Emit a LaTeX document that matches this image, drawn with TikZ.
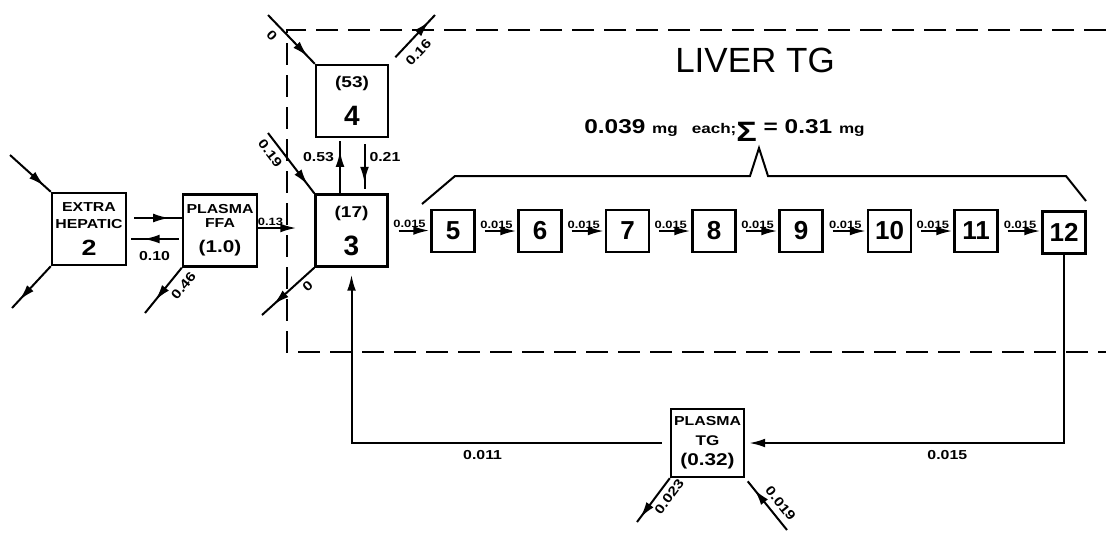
\documentclass[tikz,border=0pt]{standalone}
\usepackage{fontspec}
\setmainfont{Liberation Sans}
\newfontfamily\wideface{Liberation Sans}[FakeStretch=1.22]
\usetikzlibrary{arrows.meta,decorations.markings}

\begin{document}
\begin{tikzpicture}[x=0.5pt,y=0.5pt,
  cpt/.style={draw,line width=1.2pt,inner sep=0pt,align=center,minimum width=36pt,minimum height=36pt},
  seg/.style={draw,line width=1.2pt,inner sep=0pt,minimum width=21.5pt,minimum height=21pt,font=\bfseries\fontsize{13}{13}\selectfont},
  flow/.style={line width=1pt},
  endtip/.style={-{Latex[length=8pt,width=4.4pt]}},
  midtip/.style={postaction={decorate},decoration={markings,mark=at position #1 with {\arrow{Latex[length=8pt,width=4.4pt]}}}},
  rate/.style={font=\wideface\bfseries\fontsize{6.5}{6.5}\selectfont,inner sep=1pt},
  chainlbl/.style={font=\wideface\bfseries\fontsize{5.3}{5.3}\selectfont,inner sep=0.5pt},
  liverframe/.style={line width=1pt,dash pattern=on 11pt off 5pt}]
\useasboundingbox (0,0) rectangle (1106,-532);

% liver compartment
\draw[liverframe] (1106,-30) -- (287,-30) -- (287,-352) -- (1106,-352);
\node[font=\fontsize{17.5}{17.5}\selectfont] (title) at (755,-60.5) {LIVER TG};

% pools
\node[cpt,minimum width=37pt,font=\wideface\bfseries\fontsize{6.5}{8.5}\selectfont] (c2) at (89,-229)
  {EXTRA\\HEPATIC\\[5pt]{\fontsize{11}{11}\selectfont 2}};
\node[cpt,minimum width=37pt,font=\wideface\bfseries\fontsize{6.5}{7}\selectfont] (ffa) at (220,-230.5)
  {PLASMA\\FFA\\[5.5pt]{\fontsize{8.5}{8.5}\selectfont (1.0)}};
\node[cpt,font=\wideface\bfseries\fontsize{7.8}{19}\selectfont] (c4) at (352,-101)
  {(53)\\{\normalfont\bfseries\fontsize{14}{14}\selectfont 4}};
\node[cpt,font=\wideface\bfseries\fontsize{7.8}{19}\selectfont] (c3) at (351.5,-230.5)
  {(17)\\{\normalfont\bfseries\fontsize{14}{14}\selectfont 3}};
\node[seg] (c5) at (453,-231) {5};
\node[seg] (c6) at (540,-231) {6};
\node[seg] (c7) at (627.5,-231) {7};
\node[seg] (c8) at (714,-231) {8};
\node[seg] (c9) at (801,-231) {9};
\node[seg] (c10) at (889.5,-231) {10};
\node[seg] (c11) at (976,-231) {11};
\node[seg] (c12) at (1064,-232.5) {12};
\node[cpt,minimum width=36.5pt,minimum height=34pt,font=\wideface\bfseries\fontsize{6.5}{10}\selectfont] (ptg) at (707.5,-443)
  {PLASMA\\{\fontsize{7}{7}\selectfont TG}\\{\fontsize{8.5}{8.5}\selectfont (0.32)}};

% free ends
\coordinate (in2) at (10,-155);
\coordinate (out2) at (12,-308);
\coordinate (outffa) at (145,-313);
\coordinate (in4) at (268,-15);
\coordinate (out4) at (435,-15);
\coordinate (in3) at (268,-133);
\coordinate (out3) at (262,-315);
\coordinate (outptg) at (637,-522);
\coordinate (inptg) at (787,-530);

% extrahepatic and plasma FFA
\draw[flow,midtip=0.84] (in2) -- (c2.north west);
\draw[flow,midtip=0.81] (c2.south west) -- (out2);
\draw[flow,midtip=0.77,shorten <=3.5pt] ([yshift=5.5pt]c2.east) -- ([yshift=5.5pt]c2.east -| ffa.west);
\draw[flow,midtip=0.7,shorten <=1.5pt,shorten >=2pt] ([yshift=-4.25pt]ffa.west) -- ([yshift=-4.25pt]ffa.west -| c2.east)
  node[midway,below=4.5pt,rate] {0.10};
\draw[flow,midtip=0.72] (ffa.south west) -- (outffa) node[pos=0.22,sloped,below=2.5pt,rate] {0.46};
\draw[flow,endtip,shorten >=9pt] ([yshift=1.25pt]ffa.east) -- ([yshift=1.25pt]ffa.east -| c3.west)
  node[pos=0.22,above=0pt,chainlbl] {0.13};

% pools 3 and 4
\draw[flow,midtip=0.85] (in4) -- (c4.north west) node[pos=0.26,sloped,below=2pt,rate] {0};
\draw[flow,midtip=0.87,shorten <=4.5pt] (c4.north east) -- (out4) node[pos=0.42,sloped,below=3pt,rate] {0.16};
\draw[flow,midtip=0.86] (in3) -- (c3.north west) node[pos=0.23,sloped,below=1.5pt,rate] {0.19};
\draw[flow,midtip=0.78] (c3.south west) -- (out3) node[pos=0.25,sloped,below=1pt,rate] {0};
\draw[flow,midtip=0.77,shorten >=1.5pt] ([xshift=-5.75pt]c3.north) -- ([xshift=-5.75pt]c3.north |- c4.south)
  node[pos=0.65,left=1.5pt,rate] {0.53};
\draw[flow,midtip=0.81,shorten <=3pt,shorten >=2pt] ([xshift=6.25pt]c4.south) -- ([xshift=6.25pt]c4.south |- c3.north)
  node[pos=0.35,right=1pt,rate] {0.21};

% chain of liver pools
\draw[flow,endtip,shorten <=5pt,shorten >=0.5pt] (c3.east) -- (c3.east -| c5.west) node[midway,above=0.3pt,chainlbl] {0.015};
\draw[flow,endtip,shorten <=4.5pt,shorten >=0.5pt] (c5.east) -- (c6.west) node[midway,above=0.3pt,chainlbl] {0.015};
\draw[flow,endtip,shorten <=4.5pt,shorten >=0.5pt] (c6.east) -- (c7.west) node[midway,above=0.3pt,chainlbl] {0.015};
\draw[flow,endtip,shorten <=4.5pt,shorten >=0.5pt] (c7.east) -- (c8.west) node[midway,above=0.3pt,chainlbl] {0.015};
\draw[flow,endtip,shorten <=4.5pt,shorten >=0.5pt] (c8.east) -- (c9.west) node[midway,above=0.3pt,chainlbl] {0.015};
\draw[flow,endtip,shorten <=4.5pt,shorten >=0.5pt] (c9.east) -- (c10.west) node[midway,above=0.3pt,chainlbl] {0.015};
\draw[flow,endtip,shorten <=4.5pt,shorten >=0.5pt] (c10.east) -- (c11.west) node[midway,above=0.3pt,chainlbl] {0.015};
\draw[flow,endtip,shorten <=4.5pt,shorten >=0.5pt] (c11.east) -- (c11.east -| c12.west) node[midway,above=0.3pt,chainlbl] {0.015};

% brace over pools 5 to 12
\draw[line width=1pt] (422,-204) -- (455,-176) -- (750,-176) -- (759,-148) -- (768,-176) -- (1066,-176) -- (1086,-201);
\node[font=\wideface\bfseries\fontsize{10}{10}\selectfont,anchor=base] (sumtxt) at (724.5,-133)
  {0.039 {\fontsize{7}{7}\selectfont mg\quad each;}\raisebox{-4pt}{\fontsize{14}{14}\selectfont Σ} = 0.31 {\fontsize{7}{7}\selectfont mg}};

% plasma TG
\draw[flow,endtip,shorten >=2pt] (c12.south) |- (ptg.east) node[pos=0.683,below=2pt,rate] {0.015};
\draw[flow,endtip,shorten <=4pt,shorten >=3.5pt] (ptg.west) -| (c3.south) node[pos=0.294,below=2pt,rate] {0.011};
\draw[flow,midtip=0.9] (ptg.south west) -- (outptg) node[pos=0.28,sloped,below=1.5pt,rate] {0.023};
\draw[flow,midtip=0.78,shorten >=2pt] (inptg) -- (ptg.south east) node[pos=0.37,sloped,above=2pt,rate] {0.019};
\end{tikzpicture}
\end{document}
